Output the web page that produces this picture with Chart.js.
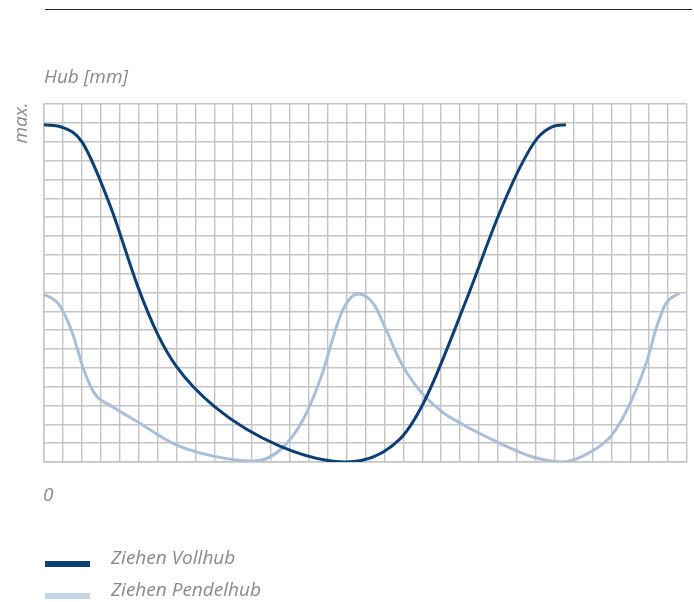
<!DOCTYPE html>
<html>
<head>
<meta charset="utf-8">
<script src="https://cdn.jsdelivr.net/npm/chart.js@4/dist/chart.umd.min.js"></script>
<style>
  body { margin: 0; background: #fff; }
  #wrap { position: relative; width: 694px; height: 602px; }
  #chart { position: absolute; left: 0; top: 0; }
  .lbl { position: absolute; font-family: "Open Sans", sans-serif; font-style: italic; font-weight: 400;
         font-size: 19px; color: #8a8a8a; white-space: nowrap; line-height: 24px; }
  #topline { position: absolute; left: 45px; top: 9px; width: 647px; height: 1px; background: #222; }
  .sw { position: absolute; left: 45px; width: 45px; height: 6px; }
</style>
</head>
<body>
<div id="wrap">
  <div id="topline"></div>
  <canvas id="chart" width="694" height="602"></canvas>
  <div class="lbl" style="left:44px; top:64px;">Hub [mm]</div>
  <div class="lbl" style="left:-1px; top:111px; transform: rotate(-90deg); transform-origin: center;">max.</div>
  <div class="lbl" style="left:43px; top:482px;">0</div>
  <div id="legend"></div>
</div>
<script>
// valeurs (unités = cases de la grille)
const labels = ["Ziehen Vollhub", "Ziehen Pendelhub"];
const colors = ["#0b3f75", "#a9bfd9"];
const legendColors = ["#0b3f75", "#c5d3e5"];

const vollX = [0, 1, 2, 3.5, 5, 6, 7, 9, 12.5, 16, 18.8, 20.1, 22.35, 24, 25.2, 26.1, 26.9, 27.6];
const vollY = [17.9, 17.75, 17.0, 13.6, 9.2, 6.8, 5.07, 2.95, 0.83, 0, 1.2, 3.2, 8.65, 13.0, 15.7, 17.2, 17.8, 17.9];

const pendX = [0, 0.8, 1.5, 2.1, 2.7, 3.6, 5, 6.8, 8.6, 11.1, 12.5, 13.7, 14.6, 15.8, 16.6, 17.4, 18.1, 18.8, 19.7, 21, 22, 24.1, 25.9, 27.4, 29.1, 30, 31, 31.9, 32.4, 32.9, 33.6];
const pendY = [8.9, 8.35, 6.85, 4.9, 3.6, 2.95, 2.1, 1.0, 0.39, 0.05, 0.65, 2.24, 4.36, 8.07, 8.92, 8.43, 7.0, 5.42, 4.0, 2.7, 2.07, 1.0, 0.25, 0, 0.65, 1.4, 3.13, 5.42, 7.19, 8.43, 8.96];

const gridCols = 34;
const gridRows = 19;

function toPoints(xs, ys){
    return xs.map((x, i) => ({ x: x, y: ys[i] }));
}

const ctx = document.getElementById('chart').getContext('2d');
const chart = new Chart(ctx, {
  type: 'line',
  data: {
    datasets: [{
      label: labels[0],
      data: toPoints(vollX, vollY),
      borderColor: colors[0],
      borderWidth: 3,
      pointRadius: 0,
      cubicInterpolationMode: 'monotone'
    }, {
      label: labels[1],
      data: toPoints(pendX, pendY),
      borderColor: colors[1],
      borderWidth: 3,
      pointRadius: 0,
      cubicInterpolationMode: 'monotone'
    }]
  },
  options: {
    responsive: false,
    animation: false,
    layout: { padding: { left: 44, right: 7, top: 104, bottom: 140 } },
    plugins: { legend: { display: false }, tooltip: { enabled: false } },
    scales: {
      x: {
        type: 'linear', min: 0, max: gridCols,
        ticks: { display: false, stepSize: 1 },
        grid: { color: '#c4c4c4', lineWidth: 1.4, drawTicks: false },
        border: { color: '#c4c4c4', width: 1.4 }
      },
      y: {
        min: 0, max: gridRows,
        ticks: { display: false, stepSize: 1 },
        grid: { color: '#c4c4c4', lineWidth: 1.4, drawTicks: false },
        border: { color: '#c4c4c4', width: 1.4 }
      }
    }
  }
});

// légende
const legend = document.getElementById('legend');
labels.forEach(function(txt, i){
    const top = 561 + i * 32;
    const sw = document.createElement('div');
    sw.className = 'sw';
    sw.style.top = top + 'px';
    sw.style.background = legendColors[i];
    legend.appendChild(sw);
    const t = document.createElement('div');
    t.className = 'lbl';
    t.style.left = '111px';
    t.style.top = (top - 16) + 'px';
    t.textContent = txt;
    legend.appendChild(t);
});
</script>
</body>
</html>
